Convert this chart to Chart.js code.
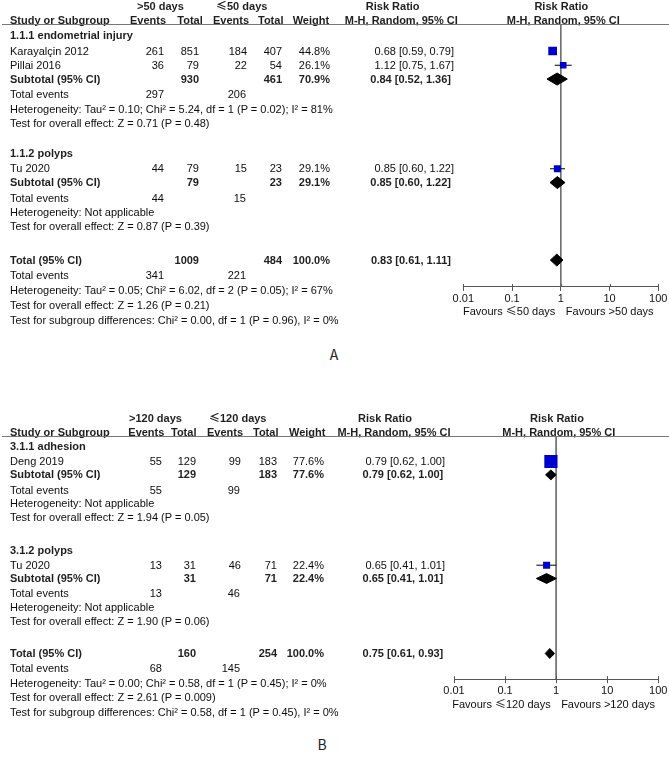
<!DOCTYPE html>
<html>
<head>
<meta charset="utf-8">
<title>Forest plots</title>
<script src="https://cdn.jsdelivr.net/npm/chart.js@4.4.1/dist/chart.umd.min.js"></script>
<style>
  body { margin: 0; width: 669px; height: 766px; background: #fff; position: relative; overflow: hidden;
         font-family: "Liberation Sans", Arial, sans-serif; }
  .panel { position: absolute; left: 0; width: 669px; }
  .panel canvas { position: absolute; left: 0; top: 0; }
  .t { position: absolute; font-size: 11px; line-height: 13px; white-space: nowrap; color: #0d0d0d; }
  .b { font-weight: bold; color: #1f1f1f; }
  .le { font-family: "Noto Sans CJK SC", sans-serif; line-height: 0; }
  .rule { position: absolute; left: 2px; width: 667px; height: 1px; background: #777; }
  .tag { position: absolute; font-family: "Noto Sans CJK SC", sans-serif; font-size: 14px; line-height: 16px; color: #222; }
</style>
</head>
<body>
<div id="panelA" class="panel"><canvas id="chartA"></canvas></div>
<div id="panelB" class="panel"><canvas id="chartB"></canvas></div>
<script>
// ---------- shared ----------
var tickValues = [0.01, 0.1, 1, 10, 100];
var tickLabels = ['0.01', '0.1', '1', '10', '100'];
var colHeads = ['Study or Subgroup', 'Events', 'Total', 'Events', 'Total', 'Weight'];

// ---------- A: >50 days vs <=50 days ----------
var armsA = ['>50 days', '≤50 days'];
var groupNamesA = ['1.1.1 endometrial injury', '1.1.2 polyps'];
var groupSizeA = [2, 1];
var studyNamesA = ['Karayalçin 2012', 'Pillai 2016', 'Tu 2020'];
var expEventsA = [261, 36, 44];
var expTotalA = [851, 79, 79];
var ctlEventsA = [184, 22, 15];
var ctlTotalA = [407, 54, 23];
var weightA = [44.8, 26.1, 29.1];
var rrA = [0.68, 1.12, 0.85];
var rrLowA = [0.59, 0.75, 0.60];
var rrHighA = [0.79, 1.67, 1.22];
var subExpTotalA = [930, 79];
var subCtlTotalA = [461, 23];
var subWeightA = [70.9, 29.1];
var subExpEventsA = [297, 44];
var subCtlEventsA = [206, 15];
var subRrA = [0.84, 0.85];
var subLowA = [0.52, 0.60];
var subHighA = [1.36, 1.22];
var subHetA = ['Heterogeneity: Tau² = 0.10; Chi² = 5.24, df = 1 (P = 0.02); I² = 81%',
               'Heterogeneity: Not applicable'];
var subTestA = ['Test for overall effect: Z = 0.71 (P = 0.48)',
                'Test for overall effect: Z = 0.87 (P = 0.39)'];
var totalA = [1009, 484];
var totalEventsA = [341, 221];
var totalRrA = [0.83, 0.61, 1.11];
var totalNotesA = ['Heterogeneity: Tau² = 0.05; Chi² = 6.02, df = 2 (P = 0.05); I² = 67%',
                   'Test for overall effect: Z = 1.26 (P = 0.21)',
                   'Test for subgroup differences: Chi² = 0.00, df = 1 (P = 0.96), I² = 0%'];
var favoursA = ['Favours ≤50 days', 'Favours >50 days'];

// ---------- B: >120 days vs <=120 days ----------
var armsB = ['>120 days', '≤120 days'];
var groupNamesB = ['3.1.1 adhesion', '3.1.2 polyps'];
var groupSizeB = [1, 1];
var studyNamesB = ['Deng 2019', 'Tu 2020'];
var expEventsB = [55, 13];
var expTotalB = [129, 31];
var ctlEventsB = [99, 46];
var ctlTotalB = [183, 71];
var weightB = [77.6, 22.4];
var rrB = [0.79, 0.65];
var rrLowB = [0.62, 0.41];
var rrHighB = [1.00, 1.01];
var subExpTotalB = [129, 31];
var subCtlTotalB = [183, 71];
var subWeightB = [77.6, 22.4];
var subExpEventsB = [55, 13];
var subCtlEventsB = [99, 46];
var subRrB = [0.79, 0.65];
var subLowB = [0.62, 0.41];
var subHighB = [1.00, 1.01];
var subHetB = ['Heterogeneity: Not applicable', 'Heterogeneity: Not applicable'];
var subTestB = ['Test for overall effect: Z = 1.94 (P = 0.05)',
                'Test for overall effect: Z = 1.90 (P = 0.06)'];
var totalB = [160, 254];
var totalEventsB = [68, 145];
var totalRrB = [0.75, 0.61, 0.93];
var totalNotesB = ['Heterogeneity: Tau² = 0.00; Chi² = 0.58, df = 1 (P = 0.45); I² = 0%',
                   'Test for overall effect: Z = 2.61 (P = 0.009)',
                   'Test for subgroup differences: Chi² = 0.58, df = 1 (P = 0.45), I² = 0%'];
var favoursB = ['Favours ≤120 days', 'Favours >120 days'];

// ---------- layout (pixels / row steps only) ----------
var layoutA = {
  top: 0, y0: 6, pitch: 15, plotLeft: 463.3, plotRight: 658.3,
  head: { arm1: 137, arm2: 216, cols: [10, 130, 177.3, 213, 258, 292.7], rr1: 392.7, mh1: 401.3, rr2: 561.3, mh2: 563.3 },
  col: { name: 10, ev1: 164, tot1: 199, ev2: 247, tot2: 282, wt: 330, rr: 454, rrB: 451, totEv1: 164, totEv2: 246 },
  steps: { head1: 0.97, line: 1.2, firstGroup: 1.97, labelToStudy: 1.03, studyStep: 0.95, studyToSub: 0.92,
           subToEvents: 1.05, lineStep: 0.95, groupGap: 2.0, totalGap: 2.22, totalStep: 1.0, axisOffset: 0.74 },
  sqScale: 1.3, diaHalf: 0.4, favGap: 25, tag: ['A', 334, 354]
};
var layoutB = {
  top: 412, y0: 6, pitch: 14.5, plotLeft: 454, plotRight: 658.3,
  head: { arm1: 129, arm2: 209, cols: [10, 128.3, 171, 207, 253, 289], rr1: 385, mh1: 394, rr2: 557, mh2: 558.8 },
  col: { name: 10, ev1: 162, tot1: 196, ev2: 241, tot2: 277, wt: 324, rr: 445, rrB: 443.3, totEv1: 162, totEv2: 240 },
  steps: { head1: 0.97, line: 1.3, firstGroup: 1.97, labelToStudy: 1.03, studyStep: 0.95, studyToSub: 0.92,
           subToEvents: 1.05, lineStep: 0.95, groupGap: 2.25, totalGap: 2.22, totalStep: 1.0, axisOffset: 0.72 },
  sqScale: 1.5, diaHalf: 0.34, favGap: 25, tag: ['B', 322, 744]
};

var panelA = { host: 'panelA', canvas: 'chartA', arms: armsA, groupNames: groupNamesA, groupSize: groupSizeA,
  names: studyNamesA, expEv: expEventsA, expTot: expTotalA, ctlEv: ctlEventsA, ctlTot: ctlTotalA, weight: weightA,
  rr: rrA, low: rrLowA, high: rrHighA, subExpTot: subExpTotalA, subCtlTot: subCtlTotalA, subWeight: subWeightA,
  subExpEv: subExpEventsA, subCtlEv: subCtlEventsA, subRr: subRrA, subLow: subLowA, subHigh: subHighA,
  subHet: subHetA, subTest: subTestA, total: totalA, totalEv: totalEventsA, totalRr: totalRrA,
  notes: totalNotesA, favours: favoursA };
var panelB = { host: 'panelB', canvas: 'chartB', arms: armsB, groupNames: groupNamesB, groupSize: groupSizeB,
  names: studyNamesB, expEv: expEventsB, expTot: expTotalB, ctlEv: ctlEventsB, ctlTot: ctlTotalB, weight: weightB,
  rr: rrB, low: rrLowB, high: rrHighB, subExpTot: subExpTotalB, subCtlTot: subCtlTotalB, subWeight: subWeightB,
  subExpEv: subExpEventsB, subCtlEv: subCtlEventsB, subRr: subRrB, subLow: subLowB, subHigh: subHighB,
  subHet: subHetB, subTest: subTestB, total: totalB, totalEv: totalEventsB, totalRr: totalRrB,
  notes: totalNotesB, favours: favoursB };

Chart.defaults.font.family = "'Liberation Sans', Arial, sans-serif";
Chart.defaults.font.size = 11;
Chart.defaults.color = '#111';

var AXIS_BAND = 18.2;

/*
 * tick marks that also reach above the axis line
 */
var crossTicks = {
  id: 'crossTicks',
  afterDraw: function (chart) {
    var ctx = chart.ctx, sx = chart.scales.x, yb = chart.chartArea.bottom;
    ctx.save();
    ctx.strokeStyle = '#555';
    ctx.lineWidth = 1;
    tickValues.forEach(function (v) {
      var x = Math.round(sx.getPixelForValue(v)) + 0.5;
      ctx.beginPath();
      ctx.moveTo(x, yb - 3);
      ctx.lineTo(x, yb);
      ctx.stroke();
    });
    ctx.restore();
  }
};

function fmtRR(e, l, h) {
  return e.toFixed(2) + ' [' + l.toFixed(2) + ', ' + h.toFixed(2) + ']';
}
function pct(w) { return w.toFixed(1) + '%'; }

/*
 * put a text line into the panel
 * [y] - pixel of the line centre, [align] - left / right / center
 */
function put(host, str, x, y, align, bold) {
  var el = document.createElement('div');
  el.className = 't' + (bold ? ' b' : '');
  var parts = String(str).split('≤');
  parts.forEach(function (p, i) {
    if (i > 0) {
      var s = document.createElement('span');
      s.className = 'le';
      s.textContent = '≤';
      el.appendChild(s);
    }
    el.appendChild(document.createTextNode(p));
  });
  el.style.left = x + 'px';
  el.style.top = (y - 6.5) + 'px';
  if (align === 'right') el.style.transform = 'translateX(-100%)';
  if (align === 'center') el.style.transform = 'translateX(-50%)';
  host.appendChild(el);
}

/*
 * row positions (in row units) for every line of a panel
 */
function rowPlan(groupSize, s) {
  var r = { head0: 0, head1: s.head1, line: s.line, groups: [] };
  var y = s.firstGroup;
  groupSize.forEach(function (n, g) {
    if (g > 0) y += s.groupGap;
    var grp = { label: y, studies: [] };
    y += s.labelToStudy;
    for (var i = 0; i < n; i++) {
      if (i > 0) y += s.studyStep;
      grp.studies.push(y);
    }
    y += s.studyToSub; grp.sub = y;
    y += s.subToEvents; grp.events = y;
    y += s.lineStep; grp.het = y;
    y += s.lineStep; grp.test = y;
    r.groups.push(grp);
  });
  y += s.totalGap; r.total = y;
  y += s.subToEvents; r.events = y;
  r.axis = y + s.axisOffset;
  y += s.totalStep; r.het = y;
  y += s.totalStep; r.test = y;
  y += s.totalStep; r.subgroup = y;
  return r;
}

function lineDs(pts, color, order) {
  return { data: pts, showLine: true, borderColor: color, borderWidth: 1, pointRadius: 0,
           fill: false, tension: 0, order: order };
}

function diamondDs(est, lo, hi, row, half) {
  return { data: [{ x: lo, y: row }, { x: est, y: row - half }, { x: hi, y: row },
                  { x: est, y: row + half }, { x: lo, y: row }],
           showLine: true, borderColor: '#000', backgroundColor: '#000', borderWidth: 1,
           pointRadius: 0, fill: 'shape', tension: 0, order: 1 };
}

function buildPanel(P, L) {
  var host = document.getElementById(P.host);
  host.style.top = L.top + 'px';
  var R = rowPlan(P.groupSize, L.steps);
  var linePx = L.y0 + R.line * L.pitch;
  var axisPx = L.y0 + R.axis * L.pitch;
  var H = Math.ceil(axisPx + AXIS_BAND + 4);
  host.style.height = (H + 40) + 'px';
  var canvas = document.getElementById(P.canvas);
  canvas.width = 669; canvas.height = H;
  canvas.style.width = '669px'; canvas.style.height = H + 'px';

  var datasets = [];
  datasets.push(lineDs([{ x: 1, y: R.line }, { x: 1, y: R.axis }], '#6e6e6e', 9));
  var sqPts = [], sqRad = [], k = 0;
  R.groups.forEach(function (g, gi) {
    g.studies.forEach(function (row) {
      datasets.push(lineDs([{ x: P.low[k], y: row }, { x: P.high[k], y: row }], '#000', 2));
      sqPts.push({ x: P.rr[k], y: row });
      sqRad.push(L.sqScale * Math.sqrt(P.weight[k]) / Math.SQRT2);
      k++;
    });
    datasets.push(diamondDs(P.subRr[gi], P.subLow[gi], P.subHigh[gi], g.sub, L.diaHalf));
  });
  datasets.push(diamondDs(P.totalRr[0], P.totalRr[1], P.totalRr[2], R.total, L.diaHalf));
  datasets.push({ data: sqPts, pointStyle: 'rect', pointRadius: sqRad, pointBackgroundColor: '#0000cc',
                  pointBorderColor: '#0000cc', pointBorderWidth: 0, showLine: false, order: 0 });

  var chart = new Chart(canvas, {
    type: 'scatter',
    data: { datasets: datasets },
    plugins: [crossTicks],
    options: {
      responsive: false,
      animation: false,
      events: [],
      layout: { padding: { left: L.plotLeft, right: 669 - L.plotRight, top: linePx, bottom: H - axisPx - AXIS_BAND } },
      plugins: { legend: { display: false }, tooltip: { enabled: false } },
      scales: {
        x: {
          type: 'logarithmic', min: 0.01, max: 100, position: 'bottom',
          afterBuildTicks: function (s) { s.ticks = tickValues.map(function (v) { return { value: v }; }); },
          ticks: { callback: function (v, i) { return tickLabels[i]; }, padding: 1, maxRotation: 0,
                   autoSkip: false, color: '#111', font: { size: 11 } },
          grid: { drawOnChartArea: false, drawTicks: true, tickLength: 4, color: '#555' },
          border: { display: true, color: '#555', width: 1 }
        },
        y: { type: 'linear', display: false, min: R.line, max: R.axis, reverse: true }
      }
    }
  });

  // pin the plot area to the header rule and the axis row
  var pad = chart.options.layout.padding;
  pad.top += linePx - chart.chartArea.top;
  pad.bottom += chart.chartArea.bottom - axisPx;
  chart.update();

  var yPx = function (v) { return chart.scales.y.getPixelForValue(v); };
  var xPx = function (v) { return chart.scales.x.getPixelForValue(v); };
  var c = L.col, h = L.head;

  // header
  put(host, P.arms[0], h.arm1, yPx(R.head0), 'left', true);
  put(host, P.arms[1], h.arm2, yPx(R.head0), 'left', true);
  put(host, 'Risk Ratio', h.rr1, yPx(R.head0), 'center', true);
  put(host, 'Risk Ratio', h.rr2, yPx(R.head0), 'center', true);
  colHeads.forEach(function (txt, i) { put(host, txt, h.cols[i], yPx(R.head1), 'left', true); });
  put(host, 'M-H, Random, 95% CI', h.mh1, yPx(R.head1), 'center', true);
  put(host, 'M-H, Random, 95% CI', h.mh2, yPx(R.head1), 'center', true);
  var rule = document.createElement('div');
  rule.className = 'rule';
  rule.style.top = (yPx(R.line) - 0.5) + 'px';
  host.appendChild(rule);

  // subgroups
  k = 0;
  R.groups.forEach(function (g, gi) {
    put(host, P.groupNames[gi], c.name, yPx(g.label), 'left', true);
    g.studies.forEach(function (row) {
      var y = yPx(row);
      put(host, P.names[k], c.name, y, 'left');
      put(host, P.expEv[k], c.ev1, y, 'right');
      put(host, P.expTot[k], c.tot1, y, 'right');
      put(host, P.ctlEv[k], c.ev2, y, 'right');
      put(host, P.ctlTot[k], c.tot2, y, 'right');
      put(host, pct(P.weight[k]), c.wt, y, 'right');
      put(host, fmtRR(P.rr[k], P.low[k], P.high[k]), c.rr, y, 'right');
      k++;
    });
    var ys = yPx(g.sub);
    put(host, 'Subtotal (95% CI)', c.name, ys, 'left', true);
    put(host, P.subExpTot[gi], c.tot1, ys, 'right', true);
    put(host, P.subCtlTot[gi], c.tot2, ys, 'right', true);
    put(host, pct(P.subWeight[gi]), c.wt, ys, 'right', true);
    put(host, fmtRR(P.subRr[gi], P.subLow[gi], P.subHigh[gi]), c.rrB, ys, 'right', true);
    put(host, 'Total events', c.name, yPx(g.events), 'left');
    put(host, P.subExpEv[gi], c.totEv1, yPx(g.events), 'right');
    put(host, P.subCtlEv[gi], c.totEv2, yPx(g.events), 'right');
    put(host, P.subHet[gi], c.name, yPx(g.het), 'left');
    put(host, P.subTest[gi], c.name, yPx(g.test), 'left');
  });

  // overall
  var yt = yPx(R.total);
  put(host, 'Total (95% CI)', c.name, yt, 'left', true);
  put(host, P.total[0], c.tot1, yt, 'right', true);
  put(host, P.total[1], c.tot2, yt, 'right', true);
  put(host, pct(100), c.wt, yt, 'right', true);
  put(host, fmtRR(P.totalRr[0], P.totalRr[1], P.totalRr[2]), c.rrB, yt, 'right', true);
  put(host, 'Total events', c.name, yPx(R.events), 'left');
  put(host, P.totalEv[0], c.totEv1, yPx(R.events), 'right');
  put(host, P.totalEv[1], c.totEv2, yPx(R.events), 'right');
  put(host, P.notes[0], c.name, yPx(R.het), 'left');
  put(host, P.notes[1], c.name, yPx(R.test), 'left');
  put(host, P.notes[2], c.name, yPx(R.subgroup), 'left');

  // favours labels under the axis
  var yf = yPx(R.axis) + L.favGap;
  put(host, P.favours[0], xPx(1) - 5.5, yf, 'right');
  put(host, P.favours[1], xPx(1) + 5, yf, 'left');

  var tag = document.createElement('div');
  tag.className = 'tag';
  tag.textContent = L.tag[0];
  tag.style.left = L.tag[1] + 'px';
  tag.style.top = (L.tag[2] - L.top - 8) + 'px';
  tag.style.transform = 'translateX(-50%)';
  host.appendChild(tag);
  return chart;
}

buildPanel(panelA, layoutA);
buildPanel(panelB, layoutB);
</script>
</body>
</html>
